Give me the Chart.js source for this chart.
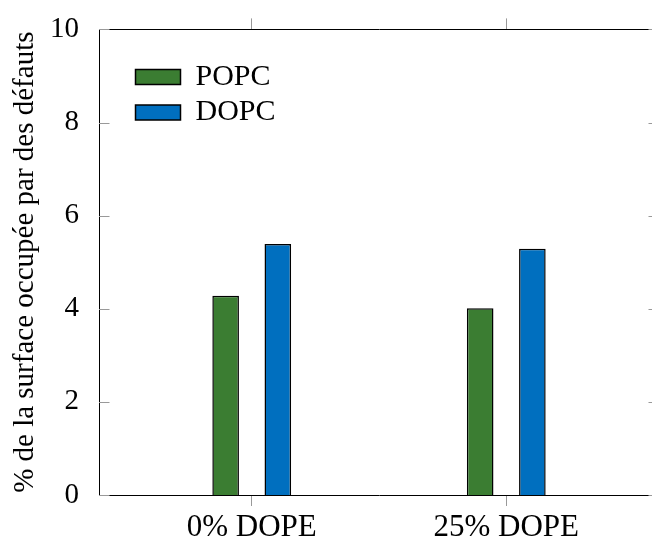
<!DOCTYPE html>
<html>
<head>
<meta charset="utf-8">
<script src="https://cdn.jsdelivr.net/npm/chart.js@4/dist/chart.umd.min.js"></script>
<style>
  html, body { margin: 0; padding: 0; overflow: hidden; background: #fff; }
  #wrap { position: relative; width: 670px; height: 542px; }
</style>
</head>
<body>
<div id="wrap"><canvas id="chart"></canvas></div>
<script>
// Data
const categories = ["0% DOPE", "25% DOPE"];
const popc = [4.28, 4.01];
const dopc = [5.39, 5.29];
const yTicks = [0, 2, 4, 6, 8, 10];
const seriesNames = ["POPC", "DOPC"];

const GREEN = "#3b7d32";
const BLUE = "#006fbf";
const TICK_GREY = "#999";

Chart.defaults.font.family = '"Liberation Serif", "Times New Roman", serif';
Chart.defaults.font.size = 29;
Chart.defaults.color = "#000";

// category positions on a linear x axis
function categoryTicks(scale) {
  scale.ticks = categories.map((_, i) => ({ value: i }));
}

// pgfplots-like inner ticks on the y axis, plus the right frame line
const frame = {
  id: "frame",
  afterLayout(chart) {
    // put the legend inside the plot, top left
    const area = chart.chartArea;
    const lg = chart.legend;
    lg.left = area.left + 31;
    lg.top = area.top + 27;
  },
  afterDraw(chart) {
    const ctx = chart.ctx;
    const area = chart.chartArea;
    const y = chart.scales.y;
    ctx.save();
    ctx.lineWidth = 1;
    ctx.strokeStyle = TICK_GREY;
    yTicks.forEach((v) => {
      const py = Math.round(y.getPixelForValue(v)) + 0.5;
      ctx.beginPath();
      ctx.moveTo(area.left, py);
      ctx.lineTo(area.left + 10.5, py);
      ctx.moveTo(area.right - 10.5, py);
      ctx.lineTo(area.right, py);
      ctx.stroke();
    });
    ctx.strokeStyle = "#000";
    ctx.beginPath();
    ctx.moveTo(area.right + 0.5, area.top);
    ctx.lineTo(area.right + 0.5, area.bottom);
    ctx.stroke();
    ctx.restore();
  },
};

const xGrid = {
  offset: false,
  drawOnChartArea: false,
  drawTicks: true,
  tickLength: 11,
  color: TICK_GREY,
};

const ctx = document.getElementById("chart").getContext("2d");
new Chart(ctx, {
  type: "bar",
  data: {
    datasets: [
      {
        label: seriesNames[0],
        data: popc.map((v, i) => ({ x: i, y: v })),
        backgroundColor: GREEN,
        borderColor: "#000",
        borderWidth: 1.5,
        xAxisID: "x",
      },
      {
        label: seriesNames[1],
        data: dopc.map((v, i) => ({ x: i, y: v })),
        backgroundColor: BLUE,
        borderColor: "#000",
        borderWidth: 1.5,
        xAxisID: "x",
      },
    ],
  },
  options: {
    responsive: true,
    maintainAspectRatio: false,
    animation: false,
    categoryPercentage: 0.41,
    barPercentage: 0.51,
    layout: { padding: { top: 17, right: 11, bottom: 0, left: 0 } },
    scales: {
      x: {
        type: "linear",
        position: "bottom",
        offset: false,
        min: -0.6,
        max: 1.6,
        afterBuildTicks: categoryTicks,
        afterFit: (s) => { s.height = 47; },
        ticks: {
          padding: 3,
          maxRotation: 0,
          autoSkip: false,
          font: { size: 31 },
          callback: (v) => categories[v] ?? "",
        },
        grid: xGrid,
        border: { display: true, color: "#000", width: 1 },
      },
      x2: {
        type: "linear",
        position: "top",
        offset: false,
        min: -0.6,
        max: 1.6,
        afterBuildTicks: categoryTicks,
        ticks: { display: false },
        grid: xGrid,
        border: { display: true, color: "#000", width: 1 },
      },
      y: {
        min: 0,
        max: 10,
        afterBuildTicks: (s) => { s.ticks = yTicks.map((v) => ({ value: v })); },
        afterFit: (s) => { s.width = 99; },
        ticks: { padding: 12 },
        grid: { display: false },
        border: { display: true, color: "#000", width: 1 },
        title: {
          display: true,
          text: "% de la surface occupée par des défauts",
          font: { size: 29 },
          padding: { top: 8, bottom: 0 },
        },
      },
    },
    plugins: {
      tooltip: { enabled: false },
      legend: {
        position: "chartArea",
        align: "start",
        labels: {
          boxWidth: 45,
          boxHeight: 15,
          padding: 5.5,
          font: { size: 30 },
          color: "#000",
        },
      },
    },
  },
  plugins: [frame],
});
</script>
</body>
</html>
